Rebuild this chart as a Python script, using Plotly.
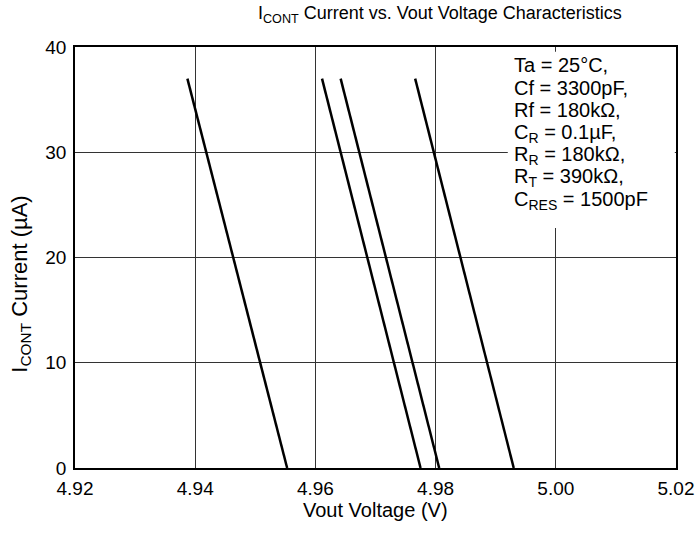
import plotly.graph_objects as go

# Data: each curve is a straight line from (V at 37 µA) to (V at 0 µA)
curve_names = ["curve1", "curve2", "curve3", "curve4"]
vout_top = [4.9387, 4.9611, 4.9642, 4.9766]
vout_bottom = [4.9553, 4.9775, 4.9806, 4.9930]
i_top = [37, 37, 37, 37]
i_bottom = [0, 0, 0, 0]

x_ticks = [4.92, 4.94, 4.96, 4.98, 5.00, 5.02]
x_tick_text = ["4.92", "4.94", "4.96", "4.98", "5.00", "5.02"]
y_ticks = [0, 10, 20, 30, 40]

conditions = [
    "Ta = 25°C,",
    "Cf = 3300pF,",
    "Rf = 180kΩ,",
    "C<sub>R</sub> = 0.1µF,",
    "R<sub>R</sub> = 180kΩ,",
    "R<sub>T</sub> = 390kΩ,",
    "C<sub>RES</sub> = 1500pF",
]

title_text = "I<sub>CONT</sub> Current vs. Vout Voltage Characteristics"
x_title = "Vout Voltage (V)"
y_title = "I<sub>CONT</sub> Current (µA)"

FONT = "Liberation Sans, Arial, sans-serif"

W, H = 700, 533
ML, MR, MT, MB = 74.5, 23.5, 47.3, 65.3
PW, PH = W - ML - MR, H - MT - MB  # plot area size in px


def px_to_paper_x(px):
    return (px - ML) / PW


def px_to_paper_y(py):
    return 1 - (py - MT) / PH


fig = go.Figure()
for name, x0, x1, y0, y1 in zip(curve_names, vout_top, vout_bottom, i_top, i_bottom):
    fig.add_trace(go.Scatter(x=[x0, x1], y=[y0, y1], mode="lines", name=name,
                             line=dict(color="black", width=2.5), showlegend=False,
                             hoverinfo="skip"))

# white background box behind the conditions text (covers grid lines; no curve passes here)
fig.add_shape(type="rect", xref="paper", yref="paper",
              x0=px_to_paper_x(508), x1=0.998, y0=px_to_paper_y(228), y1=px_to_paper_y(52),
              fillcolor="white", line=dict(width=0), layer="above")

fs_ann = 20
center0, step = 64.5, 22.2
for k, line in enumerate(conditions):
    cy = center0 + k * step
    fig.add_annotation(
        x=px_to_paper_x(513), y=px_to_paper_y(cy + 0.36 * fs_ann - 0.905 * fs_ann),
        xref="paper", yref="paper", xanchor="left", yanchor="top",
        text=line, showarrow=False, align="left", borderpad=0,
        font=dict(family=FONT, size=fs_ann, color="black"),
    )

# title
fig.add_annotation(
    x=px_to_paper_x(440), y=px_to_paper_y(15), xref="paper", yref="paper",
    text=title_text, showarrow=False, xanchor="center", yanchor="middle",
    font=dict(family=FONT, size=18, color="black"), borderpad=0,
)

# axis titles as annotations for precise placement
fig.add_annotation(
    x=px_to_paper_x(375.5), y=px_to_paper_y(510), xref="paper", yref="paper",
    text=x_title, showarrow=False, xanchor="center", yanchor="middle",
    font=dict(family=FONT, size=20, color="black"), borderpad=0,
)
fig.add_annotation(
    x=px_to_paper_x(20), y=px_to_paper_y(284), xref="paper", yref="paper",
    text=y_title, showarrow=False, xanchor="center", yanchor="middle", textangle=-90,
    font=dict(family=FONT, size=22, color="black"), borderpad=0,
)

fig.update_layout(
    width=W, height=H,
    margin=dict(l=ML, r=MR, t=MT, b=MB, autoexpand=False),
    plot_bgcolor="white", paper_bgcolor="white",
    font=dict(family=FONT, color="black"),
    hovermode=False,
)
fig.update_xaxes(
    range=[4.92, 5.02], tickvals=x_ticks, ticktext=x_tick_text,
    showgrid=True, gridcolor="#333333", gridwidth=1,
    showline=True, linecolor="black", linewidth=1.5, mirror=True,
    ticks="", tickfont=dict(family=FONT, size=19, color="black"),
    ticklabelstandoff=2, automargin=False, zeroline=False,
)
fig.update_yaxes(
    range=[0, 40], tickvals=y_ticks,
    showgrid=True, gridcolor="#333333", gridwidth=1,
    showline=True, linecolor="black", linewidth=1.5, mirror=True,
    ticks="", tickfont=dict(family=FONT, size=19, color="black"),
    ticklabelstandoff=3, automargin=False, zeroline=False,
)

fig.write_html("out.html", config={"displayModeBar": False},
               post_script="document.body.style.margin='0';")
